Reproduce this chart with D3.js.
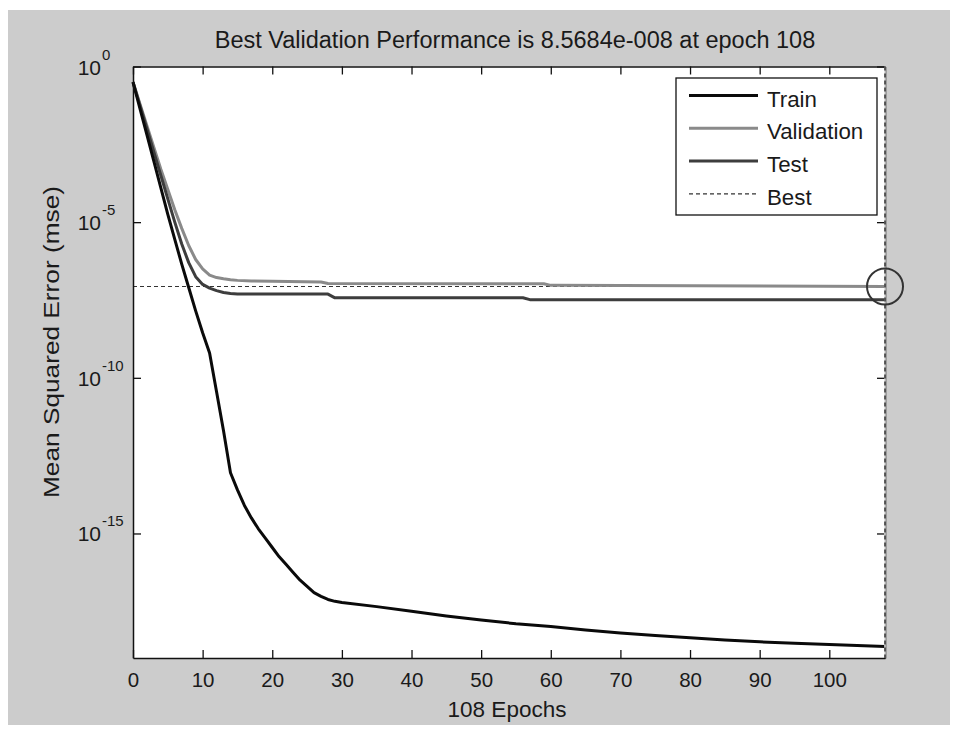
<!DOCTYPE html>
<html>
<head>
<meta charset="utf-8">
<script src="https://cdnjs.cloudflare.com/ajax/libs/d3/7.8.5/d3.min.js"></script>
<style>
  html, body { margin: 0; padding: 0; background: #ffffff; }
  svg { display: block; }
  text { font-family: "Liberation Sans", Arial, sans-serif; fill: #1a1a1a; }
</style>
</head>
<body>
<div id="chart"></div>
<script>
// ---------- data (exponents of mean squared error, log10) ----------
const trainEpochs = [0,1,2,3,4,5,6,7,8,9,10,11,12,13,14,15,16,17,18,19,20,21,22,23,24,25,26,27,28,29,30,35,40,45,50,55,60,65,70,75,80,85,90,95,100,105,108];
const trainExp = [-0.5,-1.35,-2.2,-3.05,-3.9,-4.75,-5.55,-6.35,-7.1,-7.85,-8.55,-9.2,-10.45,-11.7,-13.05,-13.6,-14.1,-14.5,-14.85,-15.15,-15.45,-15.75,-16.0,-16.25,-16.5,-16.7,-16.9,-17.02,-17.12,-17.18,-17.22,-17.35,-17.5,-17.65,-17.78,-17.9,-17.99,-18.1,-18.2,-18.28,-18.35,-18.42,-18.48,-18.53,-18.57,-18.61,-18.63];

const valEpochs = [0,1,2,3,4,5,6,7,8,9,10,11,12,13,14,15,17,20,27,28,59,60,108];
const valExp = [-0.5,-1.2,-1.9,-2.6,-3.3,-3.95,-4.6,-5.2,-5.75,-6.2,-6.5,-6.7,-6.78,-6.82,-6.85,-6.87,-6.89,-6.9,-6.92,-6.97,-6.98,-7.03,-7.067];

const testEpochs = [0,1,2,3,4,5,6,7,8,9,10,11,12,13,14,15,28,29,56,57,108];
const testExp = [-0.5,-1.25,-2.0,-2.75,-3.5,-4.25,-5.0,-5.7,-6.3,-6.75,-7.0,-7.12,-7.2,-7.26,-7.29,-7.31,-7.31,-7.43,-7.43,-7.49,-7.49];

const bestEpoch = 108;
const bestPerf = 8.5684e-8;

const xTicks = [0,10,20,30,40,50,60,70,80,90,100];
const yTickExps = [0,-5,-10,-15];
const legendLabels = ["Train","Validation","Test","Best"];

const titleText = "Best Validation Performance is 8.5684e-008 at epoch 108";
const xLabelText = "108 Epochs";
const yLabelText = "Mean Squared Error  (mse)";

// ---------- layout ----------
const W = 957, H = 731;
const L = 133, R = 885, T = 66.5, B = 658;

const svg = d3.select("#chart").append("svg").attr("width", W).attr("height", H);
svg.append("rect").attr("x",0).attr("y",0).attr("width",W).attr("height",H).attr("fill","#ffffff");
svg.append("rect").attr("x",8).attr("y",10).attr("width",942).attr("height",715).attr("fill","#cccccc");
svg.append("rect").attr("x",L).attr("y",T).attr("width",R-L).attr("height",B-T).attr("fill","#ffffff");

const x = d3.scaleLinear().domain([0,108]).range([L,R]);
const y = d3.scaleLog().domain([1e-19,1]).range([B,T]);

const toPts = (ep, ex) => ep.map((e,i) => [e, Math.pow(10, ex[i])]);
const line = d3.line().x(d => x(d[0])).y(d => y(d[1]));

const colors = { train: "#0a0a0a", val: "#8a8a8a", test: "#3d3d3d", best: "#333333" };

// best horizontal line
svg.append("line").attr("x1", x(0)).attr("x2", x(bestEpoch)).attr("y1", y(bestPerf)).attr("y2", y(bestPerf))
  .attr("stroke", colors.best).attr("stroke-width",1.2).attr("stroke-dasharray","4,3");

// series
svg.append("path").attr("d", line(toPts(valEpochs, valExp))).attr("fill","none").attr("stroke",colors.val).attr("stroke-width",3).attr("stroke-linejoin","round");
svg.append("path").attr("d", line(toPts(testEpochs, testExp))).attr("fill","none").attr("stroke",colors.test).attr("stroke-width",3).attr("stroke-linejoin","round");
svg.append("path").attr("d", line(toPts(trainEpochs, trainExp))).attr("fill","none").attr("stroke",colors.train).attr("stroke-width",3).attr("stroke-linejoin","round");

// axes
function styleAxis(g) {
  g.selectAll(".domain").attr("stroke","#111").attr("stroke-width",1.5);
  g.selectAll(".tick line").attr("stroke","#111").attr("stroke-width",1.3);
}
const gB = svg.append("g").attr("transform",`translate(0,${B})`)
  .call(d3.axisBottom(x).tickValues(xTicks).tickSize(-8).tickSizeOuter(0).tickPadding(14.3).tickFormat(d3.format("d")));
styleAxis(gB);
gB.selectAll("text").attr("font-size",20.5).attr("font-family","Liberation Sans, Arial, sans-serif").attr("fill","#1a1a1a");
const gT = svg.append("g").attr("transform",`translate(0,${T})`)
  .call(d3.axisTop(x).tickValues(xTicks).tickSize(-8).tickSizeOuter(0).tickFormat(""));
styleAxis(gT);
const yTickVals = yTickExps.map(e => Math.pow(10,e));
const gL = svg.append("g").attr("transform",`translate(${L},0)`)
  .call(d3.axisLeft(y).tickValues(yTickVals).tickSize(-8).tickSizeOuter(0).tickFormat(""));
styleAxis(gL);
const gR = svg.append("g").attr("transform",`translate(${R},0)`)
  .call(d3.axisRight(y).tickValues(yTickVals).tickSize(-8).tickSizeOuter(0).tickFormat(""));
styleAxis(gR);

// vertical best line over right border
svg.append("line").attr("x1", x(bestEpoch)).attr("x2", x(bestEpoch)).attr("y1", T).attr("y2", B)
  .attr("stroke", "#e8e8e8").attr("stroke-width",1.5);
svg.append("line").attr("x1", x(bestEpoch)).attr("x2", x(bestEpoch)).attr("y1", T).attr("y2", B)
  .attr("stroke", colors.best).attr("stroke-width",1.5).attr("stroke-dasharray","4,3");

// best circle
svg.append("circle").attr("cx", x(bestEpoch)).attr("cy", y(bestPerf)).attr("r",18)
  .attr("fill","none").attr("stroke","#333").attr("stroke-width",2);

// y tick labels with superscripts
const yl = svg.append("g");
yTickExps.forEach(e => {
  const yy = y(Math.pow(10,e));
  yl.append("text").attr("x",101).attr("y", yy + 8).attr("text-anchor","end").attr("font-size",21).text("10");
  yl.append("text").attr("x",102).attr("y", yy - 7).attr("text-anchor","start").attr("font-size",15).text(String(e));
});

// title & labels
svg.append("text").attr("x",515).attr("y",48).attr("text-anchor","middle").attr("font-size",23.5).text(titleText);
svg.append("text").attr("x",507).attr("y",717).attr("text-anchor","middle").attr("font-size",22.5).text(xLabelText);
svg.append("text").attr("transform","translate(59,342) rotate(-90)").attr("text-anchor","middle")
  .attr("font-size",22.5).attr("textLength",312).attr("lengthAdjust","spacingAndGlyphs").text(yLabelText);

// legend
const lg = svg.append("g");
lg.append("rect").attr("x",676).attr("y",78).attr("width",201).attr("height",137)
  .attr("fill","#ffffff").attr("stroke","#111").attr("stroke-width",1.3);
const legStyles = [
  {c: colors.train, w: 3, dash: null},
  {c: colors.val, w: 3, dash: null},
  {c: colors.test, w: 3, dash: null},
  {c: colors.best, w: 1.2, dash: "4,3"}
];
legendLabels.forEach((lab, i) => {
  const base = 106.5 + i * 32.8;
  const ln = lg.append("line").attr("x1",689).attr("x2",758).attr("y1",base-11).attr("y2",base-11)
    .attr("stroke",legStyles[i].c).attr("stroke-width",legStyles[i].w);
  if (legStyles[i].dash) ln.attr("stroke-dasharray",legStyles[i].dash);
  lg.append("text").attr("x",767).attr("y",base).attr("font-size",22.3).text(lab);
});
</script>
</body>
</html>
